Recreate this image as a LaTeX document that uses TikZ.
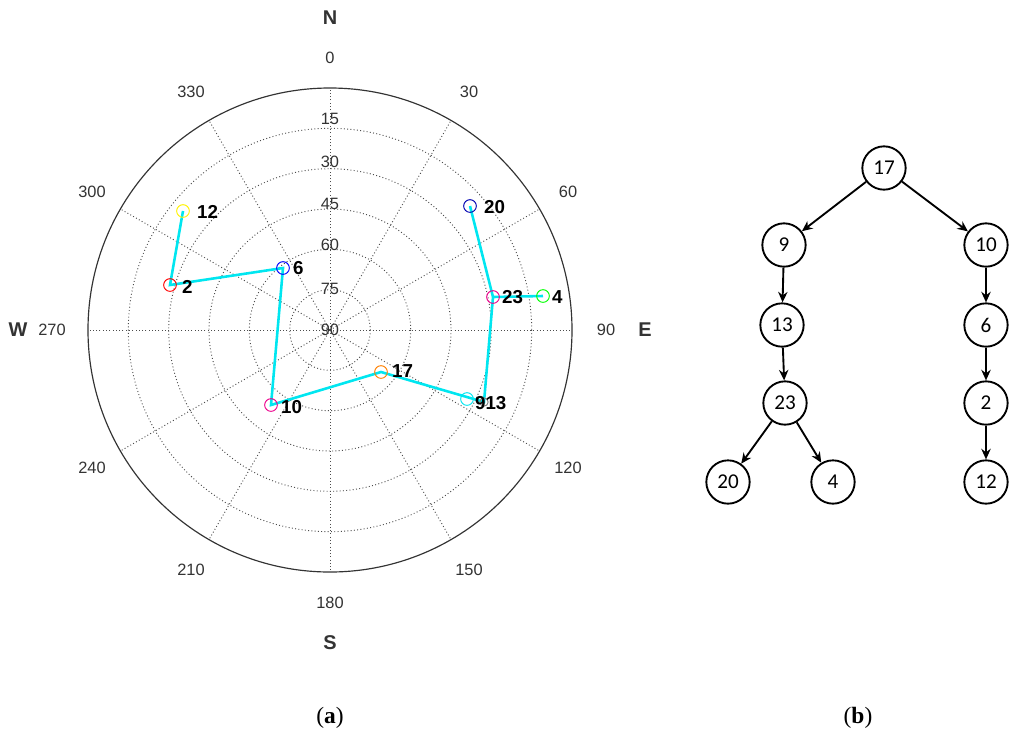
\documentclass[tikz,border=0pt]{standalone}
\usepackage{fontspec}
\setmainfont{Liberation Serif}
\newfontfamily\plotfont{Liberation Sans}
\newfontfamily\treefont{Carlito}
\usetikzlibrary{arrows.meta}
\definecolor{aqua}{RGB}{0,230,240}
\tikzset{
  grid/.style={dotted, black!70, line width=0.8pt},
  dotmark/.style={circle, draw, minimum size=0.38cm, inner sep=0pt, line width=0.8pt},
  pt/.style={font=\plotfont\bfseries\fontsize{16}{16}\selectfont, anchor=west},
  ang/.style={font=\plotfont\fontsize{14}{14}\selectfont, text=black!80},
  tnode/.style={circle, draw, line width=1.6pt, minimum size=1.3cm, inner sep=0pt, font=\treefont\fontsize{18}{18}\selectfont},
  tarr/.style={-{Stealth[length=9pt,width=8pt]}, line width=1.6pt},
  route/.style={aqua, line width=2.2pt}
}
\begin{document}
\begin{tikzpicture}[x=0.03cm,y=-0.03cm]
\useasboundingbox (0,0) rectangle (1024,743);
% polar grid
\foreach \r in {40.3,80.7,121,161.3,201.7} \draw[grid] (330,330) circle (\r);
\foreach \a in {0,30,...,330} \draw[grid] (330,330) -- ++(\a:242);
\draw[line width=1pt, black!80] (330,330) circle (242);
\foreach \v/\y in {15/119,30/162,45/204,60/245,75/289,90/330}
  \node[ang] at (330,\y) {\v};
\foreach \t/\x/\y in {0/330/58,30/469/92,60/568/192,90/606/330,120/568/468,150/469/570,180/330/603,210/191/570,240/92/468,300/92/192,330/191/92}
  \node[ang] at (\x,\y) {\t};
\node[ang] at (52,330) {270};
\node[ang, font=\plotfont\bfseries\fontsize{17}{17}\selectfont] at (330,18) {N};
\node[ang, font=\plotfont\bfseries\fontsize{17}{17}\selectfont] at (645,330) {E};
\node[ang, font=\plotfont\bfseries\fontsize{17}{17}\selectfont] at (330,643) {S};
\node[ang, font=\plotfont\bfseries\fontsize{17}{17}\selectfont] at (18,330) {W};
% points
\coordinate (p12) at (183,211);
\coordinate (p2) at (170,285);
\coordinate (p6) at (283,268);
\coordinate (p10) at (271,405);
\coordinate (p17) at (381,372);
\coordinate (p9) at (467,399);
\coordinate (p13) at (484,402);
\coordinate (p23) at (493,297);
\coordinate (p4) at (543,296);
\coordinate (p20) at (470,206);
\draw[route] (p12) -- (p2) -- (p6) -- (p10) -- (p17) -- (p13) -- (p23) -- (p20);
\draw[route] (p23) -- (p4);
\node[dotmark, yellow] at (p12) {};
\node[dotmark, red] at (p2) {};
\node[dotmark, blue] at (p6) {};
\node[dotmark, magenta] at (p10) {};
\node[dotmark, orange] at (p17) {};
\node[dotmark, aqua] at (p9) {};
\node[dotmark, gray, minimum size=0.25cm] at (p13) {};
\node[dotmark, magenta] at (p23) {};
\node[dotmark, green] at (p4) {};
\node[dotmark, blue!70!black] at (p20) {};
\node[pt] at (193,212) {12};
\node[pt] at (178,287) {2};
\node[pt] at (289,268) {6};
\node[pt] at (277,407) {10};
\node[pt] at (388,371) {17};
\node[pt] at (471,403) {913};
\node[pt] at (498,297) {23};
\node[pt] at (548,297) {4};
\node[pt] at (480,207) {20};
% tree
\node[tnode] (t17) at (884,168) {17};
\node[tnode] (t9) at (784,245) {9};
\node[tnode] (t10) at (986,245) {10};
\node[tnode] (t13) at (782,325) {13};
\node[tnode] (t6) at (986,325) {6};
\node[tnode] (t23) at (785,403) {23};
\node[tnode] (t2) at (986,403) {2};
\node[tnode] (t20) at (728,482) {20};
\node[tnode] (t4) at (833,482) {4};
\node[tnode] (t12) at (986,482) {12};
\foreach \a/\b in {t17/t9,t17/t10,t9/t13,t13/t23,t23/t20,t23/t4,t10/t6,t6/t2,t2/t12}
  \draw[tarr] (\a) -- (\b);
% captions
\node[font=\fontsize{20}{20}\selectfont] at (330,718) {(\textbf{a})};
\node[font=\fontsize{20}{20}\selectfont] at (858,718) {(\textbf{b})};
\end{tikzpicture}
\end{document}
